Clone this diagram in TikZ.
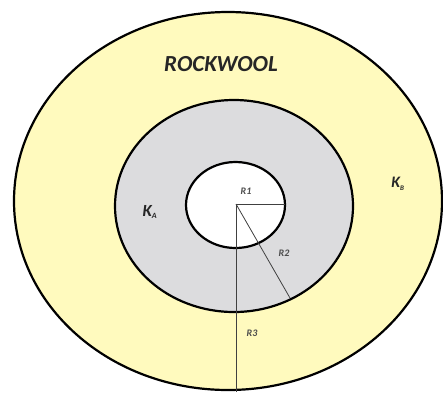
\documentclass[tikz,border=0pt]{standalone}
\usepackage{fontspec}
\setmainfont{Carlito}
\begin{document}
\begin{tikzpicture}[x=1pt,y=-1pt,
  ring/.style={draw=black,line width=2.2pt},
  radius line/.style={draw=black!75,line width=0.8pt},
  lbl/.style={font=\bfseries\itshape,text=black!85,inner sep=1pt},
  small lbl/.style={font=\bfseries\itshape\fontsize{10}{12}\selectfont,text=black!70,inner sep=1pt}]
\useasboundingbox (0,0) rectangle (443,392);
\fill[white] (0,0) rectangle (443,392);
\path[ring,fill={rgb,255:red,255;green,250;blue,190}] (228,201) ellipse [x radius=214,y radius=189];
\path[ring,fill={rgb,255:red,220;green,220;blue,222}] (234,206) ellipse [x radius=119,y radius=106];
\path[ring,fill=white] (235.5,205) ellipse [x radius=49.5,y radius=43];
\coordinate (c) at (236,204);
\coordinate (r1) at (285,204);
\coordinate (r2) at (290,298);
\coordinate (r3) at (236,392);
\draw[radius line] (c) -- (r1);
\draw[radius line] (c) -- (r2);
\draw[radius line] (c) -- (r3);
\node[lbl,font=\bfseries\itshape\fontsize{23}{26}\selectfont] (rw) at (221,64) {ROCKWOOL};
\node[lbl,font=\bfseries\itshape\fontsize{17}{19}\selectfont] (ka) at (150,212) {K\textsubscript{\fontsize{8}{9}\selectfont A}};
\node[lbl,font=\bfseries\itshape\fontsize{16}{18}\selectfont] (kb) at (398,184) {K\textsubscript{\fontsize{7}{8}\selectfont B}};
\node[small lbl] (l1) at (246,191) {R1};
\node[small lbl] (l2) at (284,253) {R2};
\node[small lbl] (l3) at (252,333) {R3};
\end{tikzpicture}
\end{document}
